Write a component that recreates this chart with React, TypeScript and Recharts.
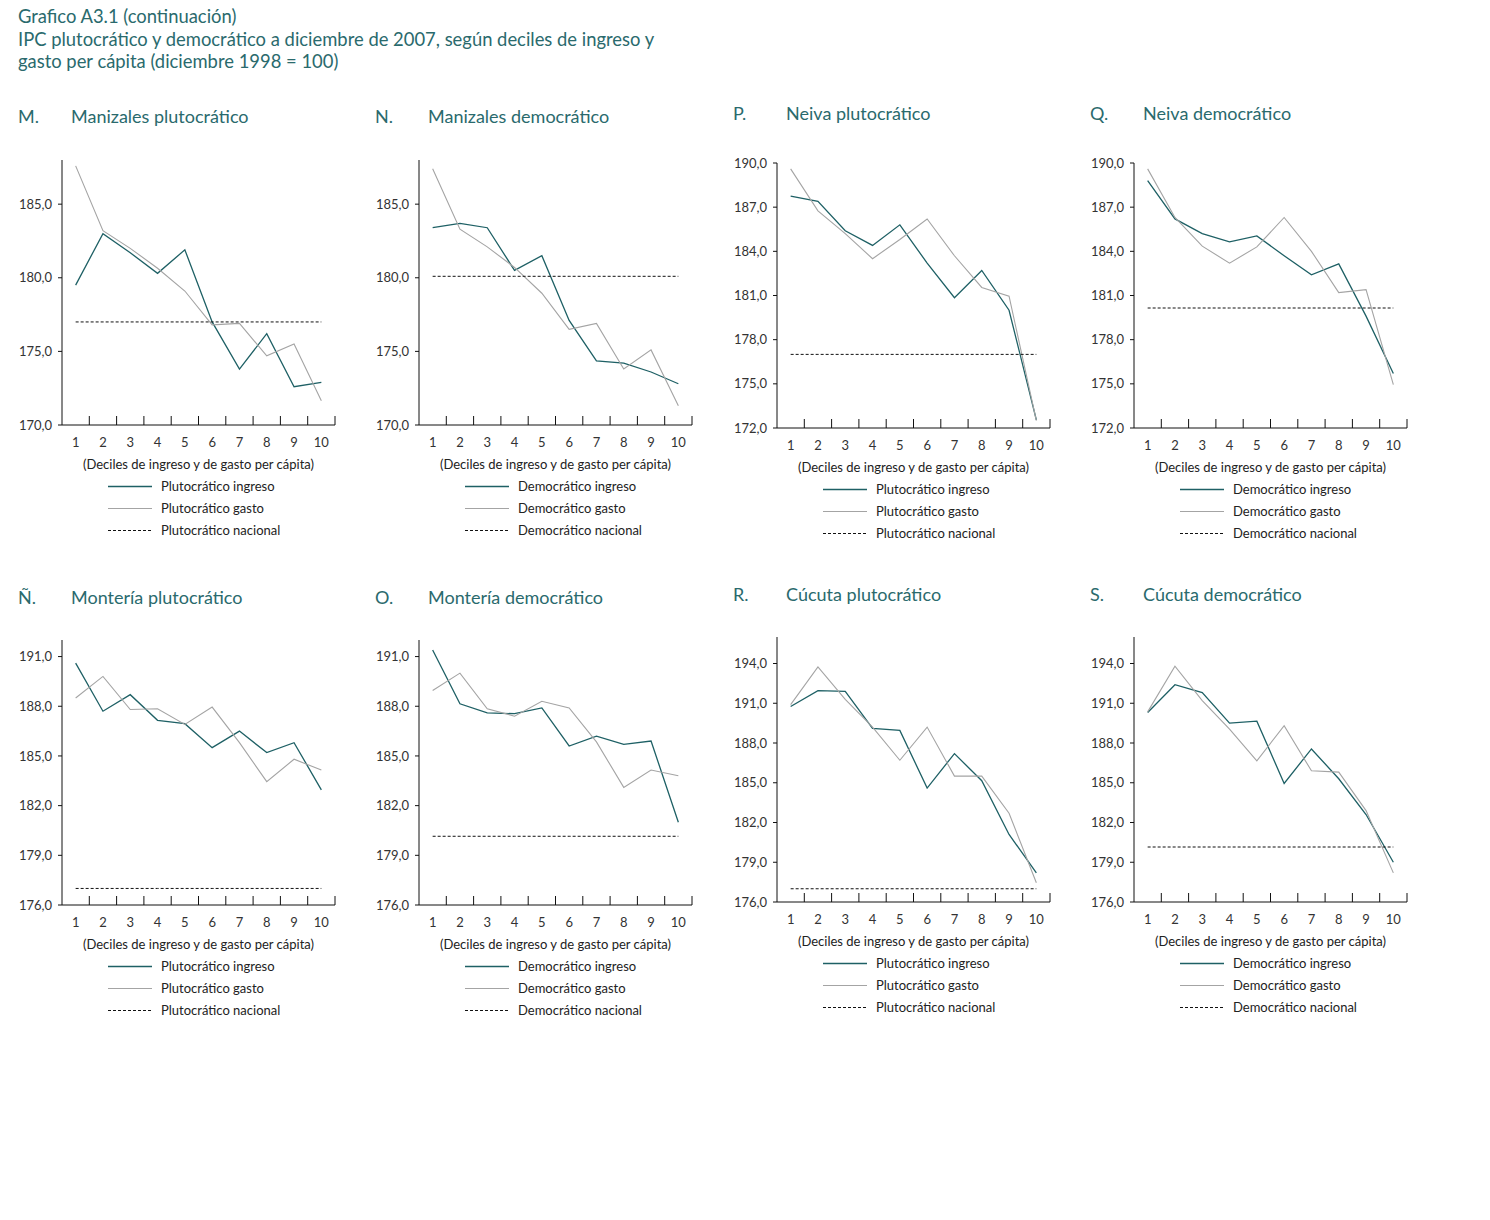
import React from "react";
import { LineChart, Line, XAxis, YAxis, Legend } from "recharts";

// deciles de ingreso y de gasto per cápita
const deciles = [1, 2, 3, 4, 5, 6, 7, 8, 9, 10];
const decileBounds = [1.5, 2.5, 3.5, 4.5, 5.5, 6.5, 7.5, 8.5, 9.5, 10.5];

// M. Manizales plutocrático
const manizalesPlutIngreso = [179.5, 183.0, 181.7, 180.3, 181.9, 177.0, 173.8, 176.2, 172.6, 172.9];
const manizalesPlutGasto = [187.6, 183.2, 182.0, 180.65, 179.1, 176.8, 176.9, 174.7, 175.5, 171.65];
const manizalesPlutNacional = 177.0;

// N. Manizales democrático
const manizalesDemIngreso = [183.4, 183.7, 183.4, 180.5, 181.5, 177.1, 174.35, 174.2, 173.6, 172.8];
const manizalesDemGasto = [187.4, 183.3, 182.1, 180.7, 178.95, 176.5, 176.9, 173.8, 175.1, 171.3];
const manizalesDemNacional = 180.1;

// P. Neiva plutocrático
const neivaPlutIngreso = [187.75, 187.4, 185.4, 184.4, 185.8, 183.2, 180.85, 182.7, 180.0, 172.55];
const neivaPlutGasto = [189.6, 186.75, 185.2, 183.5, 184.8, 186.2, 183.7, 181.55, 180.95, 172.5];
const neivaPlutNacional = 177.0;

// Q. Neiva democrático
const neivaDemIngreso = [188.8, 186.2, 185.2, 184.65, 185.05, 183.7, 182.4, 183.15, 179.6, 175.7];
const neivaDemGasto = [189.6, 186.3, 184.35, 183.2, 184.3, 186.3, 184.0, 181.2, 181.4, 174.95];
const neivaDemNacional = 180.15;

// Ñ. Montería plutocrático
const monteriaPlutIngreso = [190.6, 187.7, 188.7, 187.15, 186.95, 185.5, 186.5, 185.2, 185.8, 182.95];
const monteriaPlutGasto = [188.5, 189.8, 187.8, 187.85, 186.9, 187.95, 185.8, 183.45, 184.8, 184.15];
const monteriaPlutNacional = 177.0;

// O. Montería democrático
const monteriaDemIngreso = [191.4, 188.15, 187.6, 187.55, 187.9, 185.6, 186.2, 185.7, 185.9, 181.0];
const monteriaDemGasto = [188.95, 190.0, 187.85, 187.4, 188.3, 187.9, 185.85, 183.1, 184.15, 183.8];
const monteriaDemNacional = 180.15;

// R. Cúcuta plutocrático
const cucutaPlutIngreso = [190.75, 191.95, 191.9, 189.1, 188.95, 184.6, 187.2, 185.15, 181.1, 178.2];
const cucutaPlutGasto = [190.9, 193.75, 191.3, 189.2, 186.7, 189.2, 185.5, 185.5, 182.7, 177.45];
const cucutaPlutNacional = 177.0;

// S. Cúcuta democrático
const cucutaDemIngreso = [190.3, 192.4, 191.8, 189.5, 189.65, 184.95, 187.55, 185.3, 182.6, 179.0];
const cucutaDemGasto = [190.35, 193.8, 191.2, 189.05, 186.65, 189.3, 185.9, 185.8, 182.9, 178.2];
const cucutaDemNacional = 180.15;

// y axis ticks
const ticksManizales = [170, 175, 180, 185];
const ticksNeiva = [172, 175, 178, 181, 184, 187, 190];
const ticksMonteria = [176, 179, 182, 185, 188, 191];
const ticksCucuta = [176, 179, 182, 185, 188, 191, 194];

const TEAL = "#1e6065";
const GREY = "#a4a4a4";
const TITLE = "#2a6a6d";
const FONT = "Lato, 'Open Sans', sans-serif";

const PLOT_W = 273;
const PLOT_H = 265;
const Y_W = 60;
const TOP_M = 10;
const RIGHT_M = 12;
const X_H = 30;
const LEG_H = 112;
const CHART_W = Y_W + PLOT_W + RIGHT_M;
const CHART_H = TOP_M + PLOT_H + X_H + LEG_H;

const panels = [
  { letter: "M.", title: "Manizales plutocrático", kind: "Plutocrático", ingreso: manizalesPlutIngreso, gasto: manizalesPlutGasto, nacional: manizalesPlutNacional, ticks: ticksManizales, domain: [170, 188], axisX: 62, plotTop: 160, titleY: 116 },
  { letter: "N.", title: "Manizales democrático", kind: "Democrático", ingreso: manizalesDemIngreso, gasto: manizalesDemGasto, nacional: manizalesDemNacional, ticks: ticksManizales, domain: [170, 188], axisX: 419, plotTop: 160, titleY: 116 },
  { letter: "P.", title: "Neiva plutocrático", kind: "Plutocrático", ingreso: neivaPlutIngreso, gasto: neivaPlutGasto, nacional: neivaPlutNacional, ticks: ticksNeiva, domain: [172, 190], axisX: 777, plotTop: 163, titleY: 113 },
  { letter: "Q.", title: "Neiva democrático", kind: "Democrático", ingreso: neivaDemIngreso, gasto: neivaDemGasto, nacional: neivaDemNacional, ticks: ticksNeiva, domain: [172, 190], axisX: 1134, plotTop: 163, titleY: 113 },
  { letter: "Ñ.", title: "Montería plutocrático", kind: "Plutocrático", ingreso: monteriaPlutIngreso, gasto: monteriaPlutGasto, nacional: monteriaPlutNacional, ticks: ticksMonteria, domain: [176, 192], axisX: 62, plotTop: 640, titleY: 597 },
  { letter: "O.", title: "Montería democrático", kind: "Democrático", ingreso: monteriaDemIngreso, gasto: monteriaDemGasto, nacional: monteriaDemNacional, ticks: ticksMonteria, domain: [176, 192], axisX: 419, plotTop: 640, titleY: 597 },
  { letter: "R.", title: "Cúcuta plutocrático", kind: "Plutocrático", ingreso: cucutaPlutIngreso, gasto: cucutaPlutGasto, nacional: cucutaPlutNacional, ticks: ticksCucuta, domain: [176, 196], axisX: 777, plotTop: 637, titleY: 594 },
  { letter: "S.", title: "Cúcuta democrático", kind: "Democrático", ingreso: cucutaDemIngreso, gasto: cucutaDemGasto, nacional: cucutaDemNacional, ticks: ticksCucuta, domain: [176, 196], axisX: 1134, plotTop: 637, titleY: 594 },
];

const legendOrder = ["ingreso", "gasto", "nacional"];

const seriesStyle: Record<string, { stroke: string; width: number; dash?: string }> = {
  ingreso: { stroke: TEAL, width: 1.3 },
  gasto: { stroke: GREY, width: 1.1 },
  nacional: { stroke: "#111", width: 1, dash: "3 2" },
};

const fmt = (v: number) => v.toFixed(1).replace(".", ",");

// labels at decile centers, short inner tick marks at band boundaries
const XTick = (props: any) => {
  const { x, y, payload } = props;
  const v = payload.value;
  if (!Number.isInteger(v)) {
    return <line x1={x} x2={x} y1={y} y2={y - 9} stroke="#111" strokeWidth={1} />;
  }
  return (
    <text x={x} y={y + 22} textAnchor="middle" fontSize={13} fill="#333" fontFamily={FONT}>
      {v}
    </text>
  );
};

const PanelLegend = (props: any) => {
  const items = [...(props.payload || [])].sort(
    (a: any, b: any) => legendOrder.indexOf(a.dataKey) - legendOrder.indexOf(b.dataKey)
  );
  return (
    <div style={{ position: "relative", width: CHART_W, height: LEG_H, fontFamily: FONT, fontSize: 13, color: "#222" }}>
      <div style={{ position: "absolute", left: Y_W - 20, width: PLOT_W + 40, top: 0, lineHeight: "18px", textAlign: "center" }}>
        (Deciles de ingreso y de gasto per cápita)
      </div>
      {items.map((entry: any, i: number) => {
        const s = seriesStyle[entry.dataKey];
        return (
          <div key={entry.dataKey} style={{ position: "absolute", top: 22 + i * 22, left: 0, height: 18, width: CHART_W }}>
            <svg width={46} height={18} style={{ position: "absolute", left: Y_W + 46, top: 0 }}>
              <line x1={0} x2={44} y1={9.5} y2={9.5} stroke={s.stroke} strokeWidth={s.width} strokeDasharray={s.dash} />
            </svg>
            <span style={{ position: "absolute", left: Y_W + 99, top: 0, lineHeight: "18px", whiteSpace: "nowrap" }}>{entry.value}</span>
          </div>
        );
      })}
    </div>
  );
};

function Panel({ p }: { p: (typeof panels)[number] }) {
  const rows = deciles.map((d, i) => ({ decil: d, ingreso: p.ingreso[i], gasto: p.gasto[i], nacional: p.nacional }));
  return (
    <>
      <div style={{ position: "absolute", left: p.axisX - 44, top: p.titleY - 11, lineHeight: "22px", fontSize: 18, color: TITLE, fontFamily: FONT }}>
        {p.letter}
      </div>
      <div style={{ position: "absolute", left: p.axisX + 9, top: p.titleY - 11, lineHeight: "22px", fontSize: 18, color: TITLE, fontFamily: FONT, whiteSpace: "nowrap" }}>
        {p.title}
      </div>
      <div style={{ position: "absolute", left: p.axisX - Y_W, top: p.plotTop - TOP_M }}>
        <LineChart width={CHART_W} height={CHART_H} data={rows} margin={{ top: TOP_M, right: RIGHT_M, left: 0, bottom: 0 }}>
          <XAxis
            dataKey="decil"
            type="number"
            domain={[0.5, 10.5]}
            ticks={[...deciles, ...decileBounds]}
            interval={0}
            tick={<XTick />}
            tickLine={false}
            tickSize={0}
            tickMargin={0}
            height={X_H}
            axisLine={{ stroke: "#111", strokeWidth: 1 }}
          />
          <YAxis
            type="number"
            domain={p.domain}
            ticks={p.ticks}
            interval={0}
            allowDataOverflow
            width={Y_W}
            tickFormatter={fmt}
            tickSize={4}
            tickMargin={6}
            tickLine={{ stroke: "#111" }}
            axisLine={{ stroke: "#111", strokeWidth: 1 }}
            tick={{ fontSize: 13, fill: "#333", fontFamily: FONT }}
          />
          <Legend verticalAlign="bottom" content={<PanelLegend />} wrapperStyle={{ left: 0, width: CHART_W }} />
          <Line dataKey="ingreso" name={`${p.kind} ingreso`} stroke={TEAL} strokeWidth={1.3} dot={false} activeDot={false} isAnimationActive={false} />
          <Line dataKey="gasto" name={`${p.kind} gasto`} stroke={GREY} strokeWidth={1.1} dot={false} activeDot={false} isAnimationActive={false} />
          <Line dataKey="nacional" name={`${p.kind} nacional`} stroke="#111" strokeWidth={1} strokeDasharray="3 2" dot={false} activeDot={false} isAnimationActive={false} />
        </LineChart>
      </div>
    </>
  );
}

export default function App() {
  return (
    <div style={{ position: "absolute", left: 0, top: 0, width: 1490, height: 1220, background: "#fff", fontFamily: FONT }}>
      <div style={{ position: "absolute", left: 18, top: 5, fontSize: 18.4, lineHeight: "22.5px", color: TITLE }}>
        <div>Grafico A3.1 (continuación)</div>
        <div>IPC plutocrático y democrático a diciembre de 2007, según deciles de ingreso y</div>
        <div>gasto per cápita (diciembre 1998 = 100)</div>
      </div>
      {panels.map((p) => (
        <Panel key={p.letter} p={p} />
      ))}
    </div>
  );
}
